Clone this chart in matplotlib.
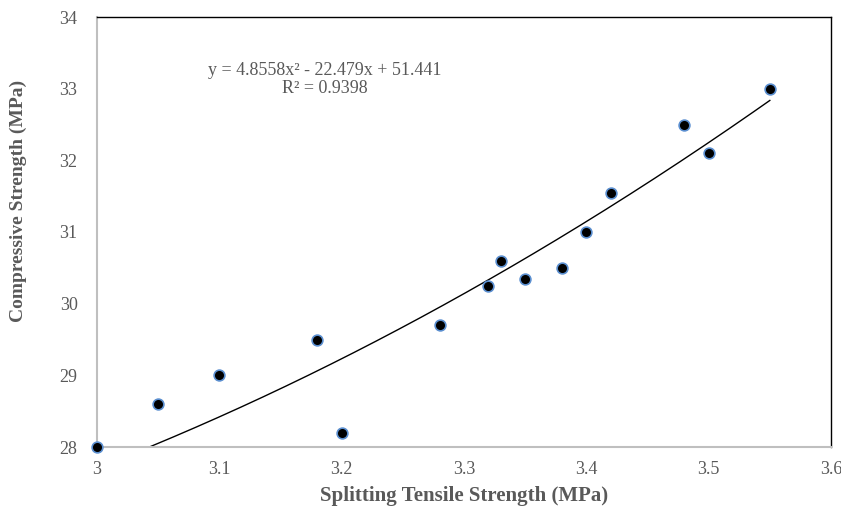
import matplotlib
matplotlib.use("Agg")
import matplotlib.pyplot as plt
import numpy as np

x_vals = [3.00, 3.05, 3.10, 3.18, 3.20, 3.28, 3.32, 3.33, 3.35, 3.38, 3.40, 3.42, 3.48, 3.50, 3.55]
y_vals = [28.0, 28.6, 29.0, 29.5, 28.2, 29.7, 30.25, 30.6, 30.35, 30.5, 31.0, 31.55, 32.5, 32.1, 33.0]
coef = [4.8558, -22.479, 51.441]
r2 = 0.9398
x_ticks = [3, 3.1, 3.2, 3.3, 3.4, 3.5, 3.6]
y_ticks = [28, 29, 30, 31, 32, 33, 34]

plt.rcParams['font.family'] = ['Liberation Serif', 'DejaVu Serif']
gray = '#595959'

W, H = 841, 512
fig = plt.figure(figsize=(W/100, H/100), dpi=100)
ax = fig.add_axes([97/W, 1-447/H, (831-97)/W, (447-17)/H])

xs = np.linspace(min(x_vals), max(x_vals), 300)
ys = np.polyval(coef, xs)
mask = ys >= 28
ax.plot(xs[mask], ys[mask], color='black', lw=1.0, zorder=2)

ax.scatter(x_vals, y_vals, s=60, color='black', edgecolors='#5b8fd0', linewidths=1.2, zorder=3, clip_on=False)

ax.set_xlim(3, 3.6)
ax.set_ylim(28, 34)
ax.set_xticks(x_ticks)
ax.set_xticklabels([f"{t:g}" for t in x_ticks])
ax.set_yticks(y_ticks)
ax.tick_params(axis='both', length=0, labelsize=13, labelcolor=gray)
ax.tick_params(axis='x', pad=10)
ax.tick_params(axis='y', pad=14)

for s in ['left', 'bottom']:
    ax.spines[s].set_color('#bfbfbf')
    ax.spines[s].set_linewidth(1.5)
for s in ['top', 'right']:
    ax.spines[s].set_color('black')
    ax.spines[s].set_linewidth(1.0)

fig.text(464/W, 1-496/H, 'Splitting Tensile Strength (MPa)', fontsize=15, fontweight='bold',
         color=gray, ha='center', va='center')
fig.text(18/W, 1-201/H, 'Compressive Strength (MPa)', fontsize=14, fontweight='bold',
         color=gray, ha='center', va='center', rotation=90)

ax.text(3.186, 33.13, f"y = {coef[0]}x² - {abs(coef[1])}x + {coef[2]}\nR² = {r2}",
        ha='center', va='center', fontsize=13, color=gray, linespacing=1.05,
        transform=ax.transData)

fig.savefig('out.png', dpi=100)
